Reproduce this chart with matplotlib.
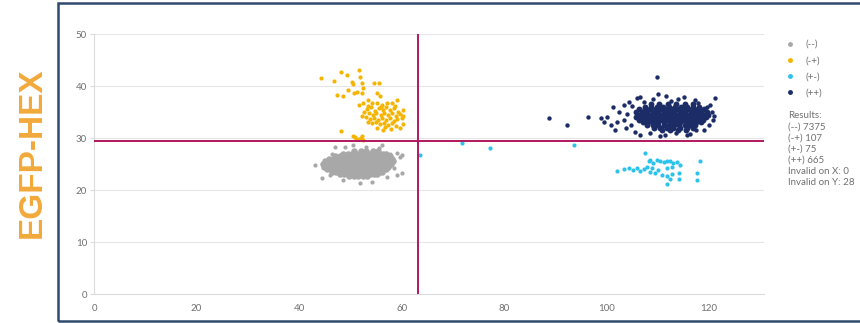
import matplotlib.pyplot as plt
from matplotlib.lines import Line2D
from matplotlib.patches import Rectangle

# ---- data (x = FAM-ish axis, y = EGFP-HEX) ----
# dense grey (--) core, stored row by row: one y per row, several x
grey_row_y = [27.5, 27.0, 26.5, 26.0, 25.5, 25.0, 24.5, 24.0, 23.5, 23.0, 22.6]
grey_row_x = [
    [50.8, 52.0, 53.1, 54.4, 55.4],
    [48.6, 49.5, 50.3, 51.2, 52.0, 52.9, 53.7, 54.6, 55.4, 56.3, 57.0],
    [47.1, 47.9, 48.8, 49.6, 50.4, 51.3, 52.1, 52.9, 53.8, 54.6, 55.5, 56.3, 57.1, 57.8],
    [45.9, 46.7, 47.5, 48.3, 49.2, 50.0, 50.8, 51.6, 52.5, 53.3, 54.1, 55.0, 55.8, 56.6, 57.5, 58.2],
    [45.1, 45.9, 46.7, 47.6, 48.4, 49.2, 50.0, 50.9, 51.7, 52.5, 53.4, 54.2, 55.0, 55.9, 56.7, 57.5, 58.3],
    [44.6, 45.4, 46.2, 47.1, 47.9, 48.7, 49.6, 50.4, 51.2, 52.1, 52.9, 53.7, 54.6, 55.4, 56.2, 57.1, 57.9],
    [44.8, 45.6, 46.5, 47.3, 48.1, 49.0, 49.8, 50.6, 51.5, 52.3, 53.1, 54.0, 54.8, 55.6, 56.5, 57.3],
    [45.4, 46.2, 47.1, 47.9, 48.7, 49.6, 50.4, 51.2, 52.1, 52.9, 53.7, 54.6, 55.4, 56.2, 56.9],
    [46.4, 47.2, 48.1, 48.9, 49.7, 50.6, 51.4, 52.2, 53.1, 53.9, 54.7, 55.6, 56.2],
    [47.9, 48.8, 49.6, 50.4, 51.3, 52.1, 52.9, 53.8, 54.6, 55.3],
    [49.8, 50.7, 51.5, 52.4, 53.2],
]
grey_out_x = [43.1, 46.4, 47.0, 49.0, 56.2, 57.8, 59.1, 59.7, 44.5, 51.9, 54.2, 57.2,
              59.1, 60.1, 60.1, 46.0, 55.5, 58.6, 48.5, 50.5, 53.0]
grey_out_y = [24.8, 26.9, 28.3, 28.3, 28.7, 26.9, 27.1, 26.3, 22.3, 21.3, 21.5, 22.5,
              22.9, 23.3, 26.7, 22.8, 28.0, 24.2, 22.0, 28.6, 28.2]

# yellow (-+)
yellow_x = [44.2, 46.8, 48.1, 49.3, 51.6, 51.9, 50.3, 50.6, 52.2, 54.6, 55.5, 47.4, 48.6,
            49.6, 50.7, 51.3, 52.2, 52.5, 55.2, 55.7,
            51.6, 52.5, 53.5, 54.2, 55.2, 56.1, 57.1, 58.1, 59.1,
            53.2, 54.0, 54.8, 55.5, 56.3, 57.0, 57.8, 58.5, 59.3,
            53.6, 54.4, 55.1, 55.9, 56.6, 57.4, 58.1, 58.9, 59.6,
            53.0, 53.9, 54.7, 55.4, 56.2, 57.0, 57.7, 58.5, 59.2, 60.0,
            54.2, 55.0, 55.8, 56.6, 57.4, 58.2, 59.0, 60.2,
            52.6, 52.3, 53.4, 56.0, 58.8, 60.3, 60.2, 59.6, 55.3, 57.9, 53.5,
            48.1, 50.6, 50.9, 52.2, 51.6, 52.5, 56.4, 56.8, 51.2, 52.0]
yellow_y = [41.5, 41.0, 42.6, 42.1, 43.1, 41.7, 40.8, 40.4, 40.5, 40.5, 40.6, 38.3, 38.1,
            39.2, 38.7, 38.9, 38.6, 39.6, 38.6, 38.1,
            36.3, 36.7, 37.3, 36.7, 36.7, 36.3, 36.7, 36.8, 37.3,
            35.5, 35.9, 35.2, 35.8, 35.4, 35.9, 35.3, 35.7, 35.0,
            34.8, 34.4, 34.9, 34.5, 34.9, 34.4, 34.8, 34.3, 34.6,
            34.0, 33.7, 33.9, 33.5, 33.9, 33.4, 33.8, 33.3, 33.7, 33.9,
            32.9, 33.0, 32.6, 32.9, 32.5, 32.8, 32.3, 32.6,
            35.0, 34.2, 36.2, 36.0, 36.2, 35.3, 34.2, 32.0, 32.0, 31.8, 33.0,
            31.4, 30.4, 30.1, 30.4, 29.8, 29.6, 31.5, 32.2, 29.9, 30.0]

# cyan (+-)
cyan_x = [63.6, 71.8, 77.3, 93.7,
          107.5, 102.0, 103.3, 104.3, 105.2, 105.9, 106.5, 107.2, 107.8, 108.2, 108.5,
          109.1, 109.8, 110.4, 111.1, 111.7, 112.4, 113.0, 113.7, 114.3, 112.7, 111.7,
          110.1, 109.5, 110.8, 111.7, 112.4, 112.7, 114.2, 114.2, 111.7, 117.6, 117.7,
          118.2, 108.5, 108.8]
cyan_y = [26.7, 29.0, 28.1, 28.7,
          27.2, 23.7, 24.0, 24.3, 23.8, 24.2, 23.7, 24.0, 24.5, 25.5, 25.8,
          25.1, 25.8, 25.5, 25.3, 25.5, 25.6, 25.1, 25.3, 24.8, 24.5, 24.2,
          23.8, 23.2, 22.9, 22.6, 22.2, 23.0, 23.2, 22.2, 21.1, 23.2, 21.9,
          25.5, 23.5, 24.2]

# navy (++) core, row by row
navy_row_y = [36.5, 36.0, 35.5, 35.0, 34.5, 34.0, 33.5, 33.0, 32.5, 32.0, 31.5]
navy_row_x = [
    [108.6, 110.2, 112.0, 113.5, 115.3, 116.8],
    [107.5, 108.7, 109.8, 111.0, 112.2, 113.3, 114.5, 115.7, 116.9, 118.0],
    [106.4, 107.5, 108.5, 109.6, 110.6, 111.7, 112.8, 113.8, 114.9, 115.9, 117.0, 118.1, 119.0],
    [105.8, 106.9, 107.9, 109.0, 110.0, 111.1, 112.2, 113.2, 114.3, 115.3, 116.4, 117.4, 118.5, 119.5],
    [106.2, 107.3, 108.3, 109.4, 110.4, 111.5, 112.6, 113.6, 114.7, 115.7, 116.8, 117.8, 118.9, 119.8],
    [105.7, 106.7, 107.8, 108.8, 109.9, 110.9, 112.0, 113.1, 114.1, 115.2, 116.2, 117.3, 118.3, 119.3],
    [106.3, 107.4, 108.4, 109.5, 110.5, 111.6, 112.7, 113.7, 114.8, 115.8, 116.9, 117.9, 118.8],
    [107.0, 108.0, 109.1, 110.1, 111.2, 112.3, 113.3, 114.4, 115.4, 116.5, 117.5, 118.4],
    [107.9, 109.0, 110.0, 111.1, 112.1, 113.2, 114.2, 115.3, 116.3, 117.3],
    [109.2, 110.5, 111.8, 113.0, 114.3, 115.6, 116.8],
    [110.8, 112.4, 114.0, 115.5],
]
navy_out_x = [88.8, 92.3, 96.4, 98.9, 99.5, 100.0, 101.3, 101.7, 103.3, 104.3, 105.9, 106.5,
              109.9, 110.1, 111.6, 115.0, 117.3, 120.2, 121.2, 120.8, 118.9, 105.6, 106.5,
              108.5, 110.4, 111.4, 115.6, 116.3, 103.3, 102.5, 104.0, 104.8, 103.8, 105.0,
              107.2, 109.0, 112.5, 114.0, 117.8, 119.5, 120.5, 121.0, 120.0, 117.5, 113.5,
              102.0, 100.8]
navy_out_y = [33.8, 32.5, 34.1, 33.9, 33.1, 34.1, 36.0, 31.5, 36.3, 37.0, 37.6, 37.9,
              41.7, 38.5, 38.1, 37.8, 37.3, 36.3, 37.6, 33.5, 31.5, 31.2, 30.6,
              30.9, 30.4, 30.6, 30.6, 30.7, 33.5, 35.0, 34.6, 32.5, 32.0, 36.2,
              37.0, 37.5, 37.2, 37.5, 36.8, 36.0, 35.0, 34.3, 32.5, 31.5, 31.0,
              33.0, 32.5]

threshold_x = 63.2
threshold_y = 29.5

labels = ["(--)", "(-+)", "(+-)", "(++)"]
results = ["Results:", "(--) 7375", "(-+) 107", "(+-) 75", "(++) 665",
           "Invalid on X: 0", "Invalid on Y: 28"]

GREY = "#a8a8a8"
YELLOW = "#f5b400"
CYAN = "#2cc3ea"
NAVY = "#1c2c66"
LINE = "#b0175f"
TXT = "#707070"


def flatten(row_y, row_x):
    xs, ys = [], []
    for y, row in zip(row_y, row_x):
        xs.extend(row)
        ys.extend([y] * len(row))
    return xs, ys


def main() -> None:
    plt.rcParams["font.family"] = ["Lato", "DejaVu Sans"]

    fig = plt.figure(figsize=(8.6, 3.23), dpi=100)
    ax = fig.add_axes([94 / 860, 1 - 294 / 323, 670 / 860, 260 / 323])

    gx, gy = flatten(grey_row_y, grey_row_x)
    nx, ny = flatten(navy_row_y, navy_row_x)

    # the dense cores hold thousands of events, so their dots are drawn a bit fatter
    ax.scatter(gx, gy, s=22, color=GREY, linewidths=0, zorder=3)
    ax.scatter(grey_out_x, grey_out_y, s=9, color=GREY, linewidths=0, zorder=3)
    ax.scatter(yellow_x, yellow_y, s=9, color=YELLOW, linewidths=0, zorder=3)
    ax.scatter(cyan_x, cyan_y, s=9, color=CYAN, linewidths=0, zorder=3)
    ax.scatter(nx, ny, s=18, color=NAVY, linewidths=0, zorder=3)
    ax.scatter(navy_out_x, navy_out_y, s=10, color=NAVY, linewidths=0, zorder=3)

    ax.axhline(threshold_y, color=LINE, lw=1.4, zorder=4)
    ax.axvline(threshold_x, color=LINE, lw=1.4, zorder=4)

    ax.set_xlim(0, 130.7)
    ax.set_ylim(0, 50)
    ax.set_xticks(range(0, 121, 20))
    ax.set_yticks(range(0, 51, 10))
    ax.grid(axis="y", color="#e6e6e6", lw=0.8)
    ax.set_axisbelow(True)
    for side in ("top", "right"):
        ax.spines[side].set_visible(False)
    for side in ("left", "bottom"):
        ax.spines[side].set_color("#dcdcdc")
        ax.spines[side].set_linewidth(0.8)
    ax.tick_params(axis="y", length=3, color="#dcdcdc", labelsize=7, labelcolor=TXT, pad=2)
    ax.tick_params(axis="x", length=0, labelsize=7, labelcolor=TXT, pad=7)

    # legend in the right margin
    handles = [Line2D([], [], ls="", marker="o", ms=2.5, color=c, mec=c)
               for c in (GREY, YELLOW, CYAN, NAVY)]
    fig.legend(handles, labels, loc="upper left", bbox_to_anchor=(785 / 860, 1 - 40 / 323),
               frameon=False, fontsize=7, labelcolor=TXT, handlelength=1.0,
               handletextpad=1.1, labelspacing=0.75, borderpad=0, borderaxespad=0)

    for i, line in enumerate(results):
        fig.text(788 / 860, 1 - (116 + i * 11.1) / 323, line, fontsize=7, color=TXT,
                 ha="left", va="center")

    fig.text(32 / 860, 1 - 153 / 323, "EGFP-HEX", rotation=90, fontsize=24,
             fontweight="bold", color="#f2a93b", ha="center", va="center",
             family=["Liberation Sans", "DejaVu Sans"])

    fig.add_artist(Rectangle((58 / 860, 1 - 321 / 323), 1.0, 318 / 323,
                             transform=fig.transFigure, fill=False,
                             edgecolor="#2f4a6e", lw=1.8))

    fig.savefig("out.png", dpi=100)
    plt.close(fig)


if __name__ == "__main__":
    main()
